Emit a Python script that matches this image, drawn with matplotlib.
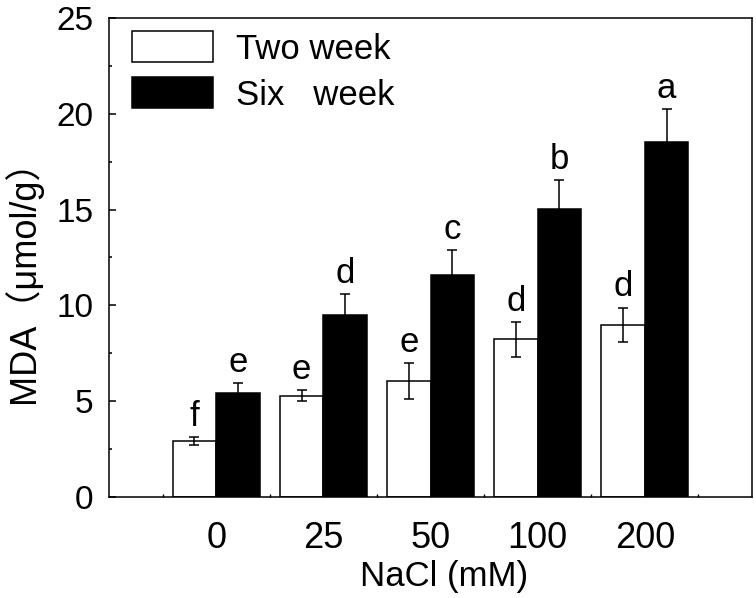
import matplotlib
matplotlib.use("Agg")
import matplotlib.pyplot as plt
import numpy as np
from matplotlib.patches import Patch
from matplotlib.ticker import MultipleLocator, FixedLocator

# ---- data ----
nacl = ["0", "25", "50", "100", "200"]
two_week = [2.92, 5.28, 6.06, 8.23, 8.99]
two_err = [0.20, 0.28, 0.95, 0.90, 0.90]
six_week = [5.43, 9.50, 11.60, 15.04, 18.53]
six_err = [0.50, 1.10, 1.30, 1.50, 1.70]
two_letters = ["f", "e", "e", "d", "d"]
six_letters = ["e", "d", "c", "b", "a"]

plt.rcParams["font.family"] = ["Liberation Sans", "Noto Sans CJK SC", "DejaVu Sans"]
FS = 24

fig = plt.figure(figsize=(7.56, 5.98), dpi=100)
ax = fig.add_axes([0.1442, 0.1689, 0.9947 - 0.1442, 0.9699 - 0.1689])

x = np.arange(len(nacl))
w = 0.405
xw = x - w / 2
xs = x + w / 2

ax.bar(xw, two_week, w, color="white", edgecolor="black", linewidth=1.1, zorder=2)
ax.bar(xs, six_week, w, color="black", edgecolor="black", linewidth=1.1, zorder=2)
ax.errorbar(xw, two_week, yerr=two_err, fmt="none", ecolor="black", elinewidth=1.1,
            capsize=3.5, capthick=1.1, zorder=3)
ax.errorbar(xs, six_week, yerr=six_err, fmt="none", ecolor="black", elinewidth=1.1,
            capsize=3.5, capthick=1.1, zorder=3)

# significance letters above each error bar
for xi, v, e, t in zip(xw, two_week, two_err, two_letters):
    ax.annotate(t, (xi, v + e), xytext=(0, 8), textcoords="offset points",
                ha="center", va="baseline", fontsize=FS + 1)
for xi, v, e, t in zip(xs, six_week, six_err, six_letters):
    ax.annotate(t, (xi, v + e), xytext=(0, 8), textcoords="offset points",
                ha="center", va="baseline", fontsize=FS + 1)

ax.set_xlim(-1, 5)
ax.set_ylim(0, 25)
ax.xaxis.set_major_locator(FixedLocator(x))
ax.set_xticklabels(nacl)
ax.xaxis.set_minor_locator(FixedLocator(np.arange(-0.5, 5, 1.0)))
ax.yaxis.set_major_locator(MultipleLocator(5))
ax.yaxis.set_minor_locator(MultipleLocator(2.5))

ax.tick_params(axis="x", which="major", length=0, pad=17, labelsize=FS + 2)
ax.tick_params(axis="x", which="minor", direction="in", length=2.5, width=1.0, top=False)
ax.tick_params(axis="y", which="major", direction="in", length=5, width=1.1, pad=11,
               labelsize=FS, right=False)
ax.tick_params(axis="y", which="minor", direction="in", length=2.5, width=1.1, right=False)
for s in ax.spines.values():
    s.set_linewidth(1.1)

ax.set_xlabel("NaCl (mM)", fontsize=FS + 1)
ax.xaxis.set_label_coords(0.521, -0.132)
ax.set_ylabel("MDA（μmol/g）", fontsize=FS + 2)
ax.yaxis.set_label_coords(-0.104, 0.47)

handles = [Patch(facecolor="white", edgecolor="black", linewidth=1.1),
           Patch(facecolor="black", edgecolor="black", linewidth=1.1)]
ax.legend(handles, ["Two week", "Six   week"], loc="upper left",
          bbox_to_anchor=(0.036, 0.972), frameon=False, fontsize=FS + 1,
          borderaxespad=0, borderpad=0, handlelength=2.33, handleheight=1.0,
          handletextpad=0.65, labelspacing=0.33)

fig.savefig("out.png", dpi=100)
